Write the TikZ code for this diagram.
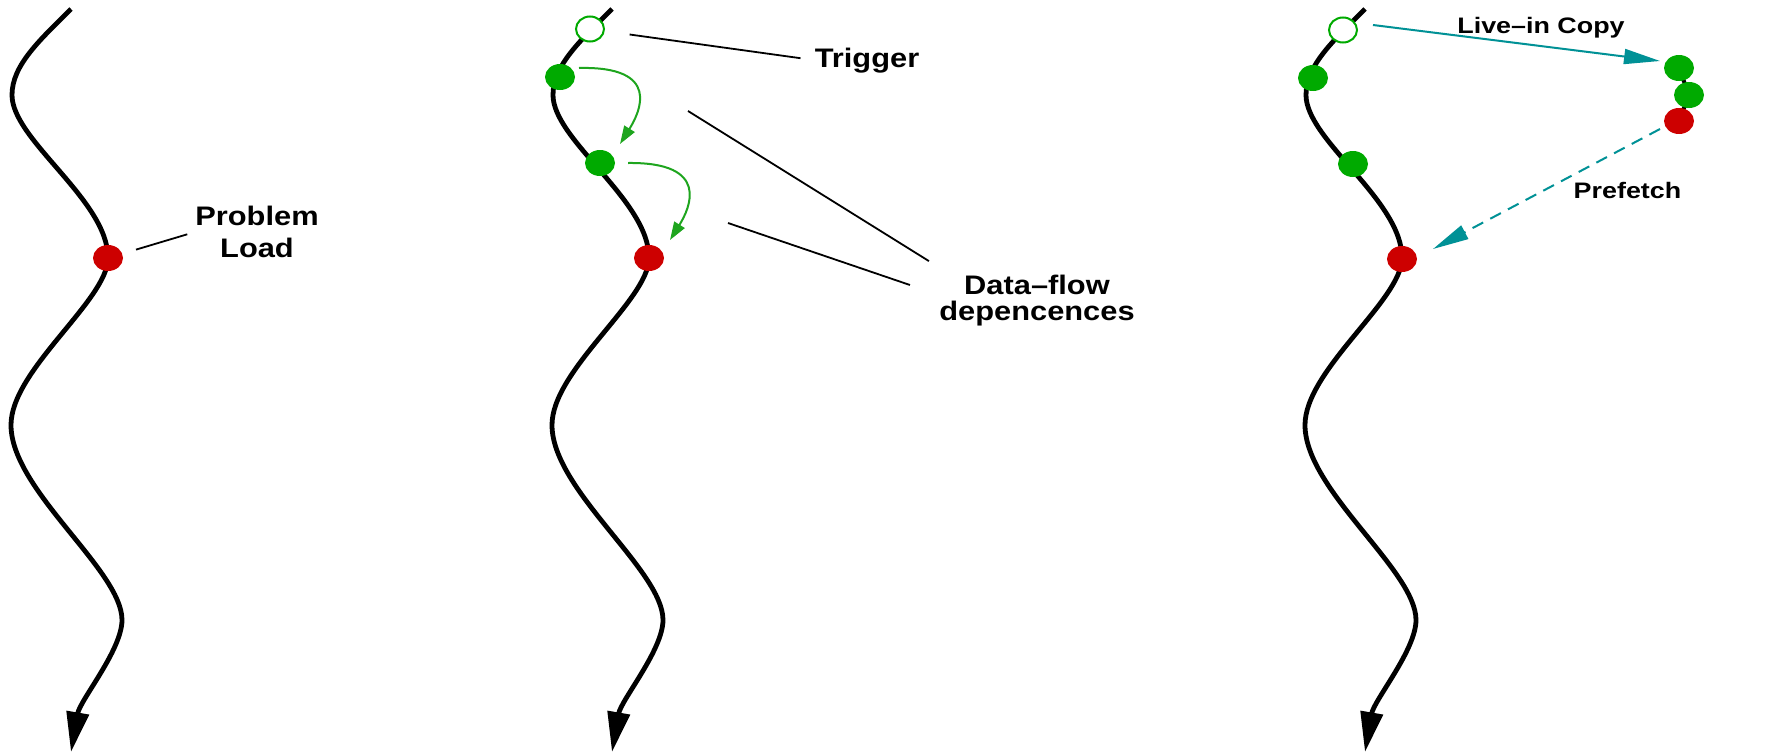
\documentclass[tikz,border=0pt]{standalone}
\usepackage{fontspec}
\setmainfont{Liberation Sans}
\newfontfamily\labAfont{Liberation Sans}[FakeStretch=1.15]
\newfontfamily\labBfont{Liberation Sans}[FakeStretch=1.2]
\usetikzlibrary{shapes.geometric,arrows.meta,calc}
\definecolor{dotred}{RGB}{205,0,0}
\definecolor{dotgreen}{RGB}{0,170,0}
\definecolor{arrgreen}{RGB}{30,165,30}
\definecolor{tealc}{RGB}{0,145,150}
\tikzset{
  thread/.style={line width=2.4pt, black, -{Triangle[length=20pt,width=11pt]}},
  rdot/.style={ellipse, fill=dotred, inner sep=0pt, minimum width=15pt, minimum height=13pt},
  gdot/.style={ellipse, fill=dotgreen, inner sep=0pt, minimum width=15pt, minimum height=13pt},
  tdot/.style={ellipse, draw=dotgreen, line width=1pt, fill=white, inner sep=0pt, minimum width=14pt, minimum height=12.5pt},
  labA/.style={inner sep=0pt, font=\labAfont\bfseries\fontsize{13.4}{16}\selectfont},
  labA2/.style={inner sep=0pt, font=\labAfont\bfseries\fontsize{13.4}{13}\selectfont},
  labB/.style={inner sep=0pt, font=\labBfont\bfseries\fontsize{11.2}{13}\selectfont},
  leader/.style={line width=0.9pt, black},
  garrow/.style={line width=1pt, arrgreen, -{Triangle[length=9pt,width=6pt]}},
  tarrow/.style={line width=1pt, tealc, -{Triangle[length=18pt,width=7.5pt]}},
}
\begin{document}
\begin{tikzpicture}[x=0.5pt,y=-0.5pt]
\useasboundingbox (0,0) rectangle (1773,755);
\fill[white] (0,0) rectangle (1773,755);
% three threads
\foreach \s in {0,541,1294}{
  \begin{scope}[shift={(\s,0)}]
    \draw[thread] (71,9) .. controls (40,40) and (12,65) .. (12,95)
      .. controls (12,140) and (108,200) .. (108,258)
      .. controls (108,300) and (11,370) .. (11,425)
      .. controls (11,490) and (122,570) .. (122,620)
      .. controls (122,650) and (80,700) .. (71,752);
  \end{scope}
}
% ---- panel 1
\node[rdot] (rd1) at (108,258) {};
\node[labA, align=center] (pl) at (257,232) {Problem\\Load};
\draw[leader, shorten <=7pt, shorten >=4pt] (rd1) -- (pl.west);
% ---- panel 2
\node[tdot] (tr2) at (590,29) {};
\node[gdot] (g1) at (560,77) {};
\node[gdot] (g2) at (600,163) {};
\node[rdot] (rd2) at (649,258) {};
\draw[garrow] ($(g1)+(19,-9)$) .. controls ($(g1)+(102,-11)$) and ($(g2)+(40,-51)$) .. ($(g2)+(20,-19)$);
\draw[garrow] ($(g2)+(28,0)$) .. controls ($(g2)+(111,-1)$) and ($(rd2)+(41,-50)$) .. ($(rd2)+(21,-18)$);
\node[labA, anchor=base] (trg) at (867,67) {Trigger};
\draw[leader, shorten <=12.5pt, shorten >=7pt] (tr2) -- (trg.west);
\node[labA2, align=center] (df) at (1037,301) {Data–flow\\depencences};
\coordinate (dfa) at (688,111);
\coordinate (dfb) at (728,223);
\draw[leader] (dfa) -- ($(df.north west)+(-10,-14)$);
\draw[leader] (dfb) -- ($(df.west)+(-29,-16)$);
% ---- panel 3
\node[tdot] (tr3) at (1343,30) {};
\node[gdot] (g31) at (1313,78) {};
\node[gdot] (g32) at (1353,164) {};
\node[rdot] (rd3) at (1402,259) {};
\coordinate (ca) at (1679,68);
\coordinate (cb) at (1689,95);
\coordinate (cc) at (1679,121);
\draw[line width=2pt] (ca) -- (cb) -- (cc);
\node[gdot] (ga) at (ca) {};
\node[gdot] (gb) at (cb) {};
\node[rdot] (rc) at (cc) {};
\node[labB, anchor=base] (lic) at (1541,33) {Live–in Copy};
\draw[tarrow] ($(tr3.east)+(15,-5)$) -- ($(ga)+(-19,-7)$);
\node[labB, anchor=base] (pf) at (1627.5,198.5) {Prefetch};
\draw[tarrow, dash pattern=on 6pt off 4pt] ($(rc)+(-19,8)$) -- ($(rd3)+(31,-10)$);
\end{tikzpicture}
\end{document}
